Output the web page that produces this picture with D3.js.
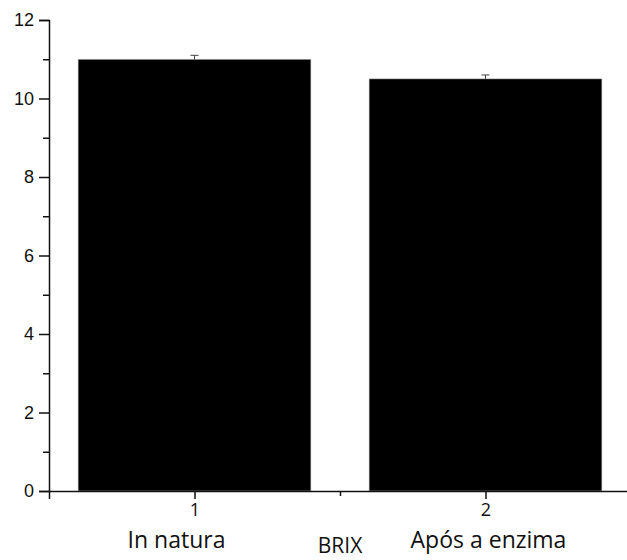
<!DOCTYPE html>
<html>
<head>
<meta charset="utf-8">
<script src="https://cdn.jsdelivr.net/npm/d3@7"></script>
<style>
  body { margin: 0; background: #fff; }
</style>
</head>
<body>
<div id="my_dataviz"></div>
<script>
// Data
const xPositions = [1, 2];
const tickNames = ["1", "2"];
const categories = ["In natura", "Após a enzima"];
const brixMeans = [11.0, 10.5];
const brixErrors = [0.1, 0.1];
const yTicks = [0, 2, 4, 6, 8, 10, 12];
const yMinorTicks = [1, 3, 5, 7, 9, 11];
const xMinorTicks = [1.5];
const axisTitle = "BRIX";

const W = 627, H = 560;
const svg = d3.select("#my_dataviz")
  .append("svg")
    .attr("width", W)
    .attr("height", H);

// Scales
const x = d3.scaleLinear().domain([0.5, 2.5]).range([49, 631]);
const y = d3.scaleLinear().domain([0, 12]).range([491, 20]);
const barW = x(1.4) - x(0.6);

// Bars
svg.append("g")
  .selectAll("rect")
  .data(xPositions)
  .join("rect")
    .attr("x", (d) => x(d) - barW / 2)
    .attr("y", (d, i) => y(brixMeans[i]))
    .attr("width", barW)
    .attr("height", (d, i) => y(0) - y(brixMeans[i]))
    .attr("fill", "#000")
    .attr("stroke", "#bbb")
    .attr("stroke-width", 0.6);

// Error bars (only the upper part shows above the black bars)
const err = svg.append("g").attr("stroke", "#444").attr("stroke-width", 1);
err.selectAll("line.stem")
  .data(xPositions)
  .join("line")
    .attr("class", "stem")
    .attr("x1", (d) => x(d)).attr("x2", (d) => x(d))
    .attr("y1", (d, i) => y(brixMeans[i]))
    .attr("y2", (d, i) => y(brixMeans[i] + brixErrors[i]));
err.selectAll("line.cap")
  .data(xPositions)
  .join("line")
    .attr("class", "cap")
    .attr("x1", (d) => x(d) - 4).attr("x2", (d) => x(d) + 4)
    .attr("y1", (d, i) => y(brixMeans[i] + brixErrors[i]))
    .attr("y2", (d, i) => y(brixMeans[i] + brixErrors[i]));

// Y axis
const yAxis = svg.append("g")
  .attr("transform", `translate(${x(0.5)},0)`)
  .call(d3.axisLeft(y).tickValues(yTicks).tickSize(10).tickPadding(5).tickFormat(d3.format("d")));
yAxis.selectAll("text")
  .attr("font-family", "'Liberation Sans', Arial, sans-serif")
  .attr("font-size", 18)
  .attr("fill", "#111");
svg.append("g")
  .attr("transform", `translate(${x(0.5)},0)`)
  .call(d3.axisLeft(y).tickValues(yMinorTicks).tickSize(6).tickFormat(""))
  .select(".domain").remove();

// X axis
const xAxis = svg.append("g")
  .attr("transform", `translate(0,${y(0)})`)
  .call(d3.axisBottom(x).tickValues(xPositions).tickSize(8).tickPadding(4).tickFormat((d, i) => tickNames[i]));
xAxis.selectAll("text")
  .attr("font-family", "'Open Sans', sans-serif")
  .attr("font-size", 18)
  .attr("fill", "#111");
svg.append("g")
  .attr("transform", `translate(0,${y(0)})`)
  .call(d3.axisBottom(x).tickValues(xMinorTicks).tickSize(5).tickFormat(""))
  .select(".domain").remove();

svg.selectAll(".domain, .tick line").attr("stroke", "#111").attr("stroke-width", 1.5);

// Category names under the tick numbers (first one sits a bit left of its tick)
const labelShift = [-18, 3];
svg.append("g")
  .selectAll("text")
  .data(categories)
  .join("text")
    .attr("x", (d, i) => x(xPositions[i]) + labelShift[i])
    .attr("y", 548)
    .attr("text-anchor", "middle")
    .attr("font-family", "'Open Sans', sans-serif")
    .attr("font-size", 23)
    .attr("fill", "#111")
    .text((d) => d);

// Axis title
svg.append("text")
  .attr("x", x(1.5))
  .attr("y", 553)
  .attr("text-anchor", "middle")
  .attr("font-family", "'Open Sans', sans-serif")
  .attr("font-size", 21)
  .attr("fill", "#111")
  .text(axisTitle);
</script>
</body>
</html>
